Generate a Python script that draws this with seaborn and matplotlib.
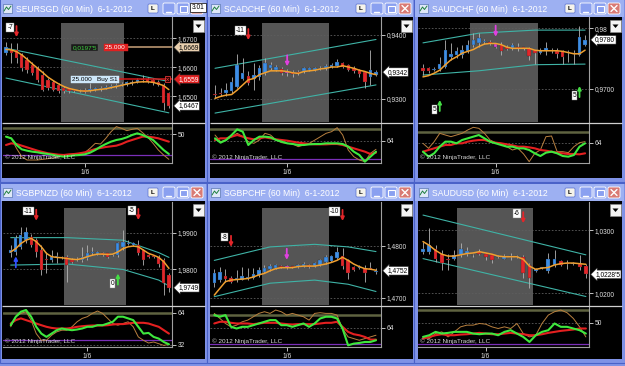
import numpy as np
import matplotlib
matplotlib.use("Agg")
import matplotlib.pyplot as plt
import seaborn as sns
from matplotlib.patches import Rectangle, Polygon, FancyBboxPatch

# ---------------- data ----------------
# SEURSGD
eursgd_open = [1.6649, 1.6660, 1.6660, 1.6643, 1.6626, 1.6609, 1.6597, 1.6574, 1.6557, 1.6551, 1.6540, 1.6529, 1.6525, 1.6523, 1.6521, 1.6523,
               1.6517, 1.6522, 1.6525, 1.6528, 1.6532, 1.6535, 1.6538, 1.6541, 1.6545, 1.6550, 1.6560, 1.6560, 1.6557, 1.6551, 1.6540, 1.6511]
eursgd_high = [1.6686, 1.6683, 1.6683, 1.6649, 1.6637, 1.6620, 1.6603, 1.6586, 1.6563, 1.6557, 1.6546, 1.6534, 1.6529, 1.6526, 1.6526, 1.6529,
               1.6546, 1.6532, 1.6535, 1.6540, 1.6543, 1.6546, 1.6550, 1.6553, 1.6557, 1.6563, 1.6574, 1.6568, 1.6563, 1.6557, 1.6546, 1.6515]
eursgd_low = [1.6643, 1.6614, 1.6614, 1.6586, 1.6580, 1.6574, 1.6551, 1.6517, 1.6521, 1.6517, 1.6511, 1.6511, 1.6511, 1.6514, 1.6514, 1.6511,
              1.6514, 1.6518, 1.6520, 1.6524, 1.6528, 1.6530, 1.6534, 1.6537, 1.6540, 1.6546, 1.6548, 1.6546, 1.6540, 1.6534, 1.6454, 1.6460]
eursgd_close = [1.6671, 1.6649, 1.6631, 1.6597, 1.6591, 1.6580, 1.6557, 1.6523, 1.6529, 1.6523, 1.6517, 1.6517, 1.6517, 1.6520, 1.6518, 1.6514,
                1.6525, 1.6527, 1.6530, 1.6533, 1.6537, 1.6540, 1.6543, 1.6548, 1.6551, 1.6557, 1.6557, 1.6551, 1.6546, 1.6540, 1.6477, 1.6467]
eursgd_ma = [1.6662, 1.6660, 1.6654, 1.6643, 1.6628, 1.6612, 1.6597, 1.6582, 1.6566, 1.6554, 1.6543, 1.6534, 1.6527, 1.6523, 1.6519, 1.6518,
             1.6519, 1.6522, 1.6524, 1.6526, 1.6530, 1.6534, 1.6538, 1.6542, 1.6546, 1.6549, 1.6550, 1.6550, 1.6548, 1.6543, 1.6537, 1.6523]
eursgd_chan_x = [0, 31]
eursgd_chan_up = [1.6666, 1.6551]
eursgd_chan_lo = [1.6563, 1.6443]
eursgd_fast = [46.5, 44, 34, 27.5, 25.5, 24, 23, 21.5, 20.5, 19, 17.5, 16.5, 17.5, 18.5, 19, 20, 22.5, 26.5, 31.5, 35.5, 39, 41.5, 43, 45.5,
               49, 51.5, 49, 45.5, 41.5, 34, 26.5, 20.5]
eursgd_slow = [34, 36.5, 35.5, 33, 30.5, 28, 25.5, 23.5, 21.5, 20.5, 19.5, 19, 20, 20.5, 21.5, 23, 25.5, 28, 29.5, 31, 32, 33, 35.5, 39,
               41.5, 44, 46.5, 46.5, 45.5, 44, 41.5, 39]
eursgd_raw = [46.5, 44, 29, 16.5, 11.5, 11.5, 11.5, 12.5, 13.5, 14.5, 16.5, 17.5, 18.5, 20.5, 21.5, 22.5, 29, 36.5, 35.5, 44, 54, 61.5, 59,
              55.5, 57.5, 59, 52.5, 45.5, 36.5, 26.5, 19, 12.5]
eursgd_levels = [1.67, 1.66, 1.65]
eursgd_level_labels = ["1,6700", "1,6600", "1,6500"]
eursgd_last = "1,6467"
eursgd_target, eursgd_entry = 1.6669, 1.6559
eursgd_sig_bar, eursgd_sig_price, eursgd_sig_text, eursgd_sig_kind = [2], [1.6704], ["-7"], ["sell"]

# SCADCHF
cadchf_open = [.9308, .9309, .9309, .9312, .9319, .9332, .9336, .9331, .9335, .9340, .9348, .9345, .9347, .9344, .9342, .9342, .9343, .9345,
               .9346, .9347, .9348, .9350, .9352, .9356, .9353, .9348, .9345, .9342, .9335, .9338]
cadchf_high = [.9322, .9317, .9325, .9335, .9371, .9364, .9343, .9356, .9353, .9364, .9358, .9353, .9350, .9347, .9345, .9345, .9350, .9350,
               .9350, .9352, .9355, .9356, .9362, .9358, .9355, .9351, .9347, .9344, .9377, .9346]
cadchf_low = [.9301, .9304, .9304, .9309, .9317, .9330, .9322, .9314, .9330, .9338, .9346, .9343, .9337, .9336, .9335, .9338, .9341, .9343,
              .9344, .9345, .9346, .9348, .9350, .9348, .9344, .9341, .9335, .9317, .9322, .9336]
cadchf_close = [.9307, .9308, .9314, .9327, .9353, .9340, .9325, .9338, .9348, .9356, .9353, .9350, .9340, .9340, .9339, .9341, .9348, .9348,
                .9348, .9348, .9352, .9353, .9358, .9350, .9346, .9344, .9339, .9327, .9345, .9342]
cadchf_ma = [.9301, .9304, .9306, .9307, .9314, .9322, .9330, .9332, .9338, .9341, .9344, .9344, .9344, .9343, .9341, .9340, .9343, .9344,
             .9345, .9347, .9348, .9350, .9350, .9352, .9350, .9348, .9345, .9343, .9340, .9338]
cadchf_chan_x = [0, 29]
cadchf_chan_up = [.9348, .9393]
cadchf_chan_lo = [.9278, .9322]
cadchf_fast = [67.5, 61, 65, 72.5, 81, 77.5, 57.5, 65, 70, 70, 69, 65, 62.5, 60, 59, 57.5, 57.5, 58.5, 59, 59, 60, 60, 60, 59, 55, 47.5,
               42.5, 32.5, 40, 47.5]
cadchf_slow = [65, 67.5, 67.5, 70, 72.5, 70, 67.5, 66, 67.5, 69, 67.5, 66, 65, 64, 62.5, 61, 60, 59, 58.5, 58.5, 58.5, 59, 59, 57.5, 55,
               52.5, 50, 47.5, 44, 46]
cadchf_raw = [72.5, 62.5, 65, 70, 75, 70, 62.5, 60, 65, 75, 72.5, 65, 61, 60, 59, 55, 57.5, 60, 65, 70, 75, 77.5, 83.5, 72.5, 50, 40, 35,
              32.5, 45, 51]
cadchf_levels = [0.94, 0.93]
cadchf_level_labels = ["0,9400", "0,9300"]
cadchf_last = "0,9342"
cadchf_sig_bar, cadchf_sig_price, cadchf_sig_text, cadchf_sig_kind = [6, 13], [0.9392, 0.9351], ["-11", ""], ["sell", "mark"]

# SAUDCHF
audchf_open = [.9734, .9734, .9731, .9733, .9737, .9752, .9756, .9756, .9762, .9773, .9776, .9777, .9778, .9774, .9773, .9770, .9767, .9769,
               .9768, .9768, .9764, .9760, .9762, .9765, .9763, .9762, .9760, .9759, .9756, .9773]
audchf_high = [.9742, .9737, .9737, .9753, .9781, .9775, .9770, .9773, .9781, .9792, .9792, .9782, .9780, .9776, .9778, .9773, .9775, .9775,
               .9770, .9770, .9764, .9768, .9778, .9767, .9767, .9764, .9764, .9764, .9803, .9789]
audchf_low = [.9723, .9726, .9729, .9729, .9734, .9748, .9751, .9751, .9759, .9770, .9770, .9774, .9772, .9768, .9756, .9764, .9764, .9762,
              .9765, .9748, .9742, .9758, .9756, .9760, .9751, .9742, .9745, .9742, .9754, .9771]
audchf_close = [.9729, .9729, .9733, .9742, .9765, .9758, .9762, .9765, .9773, .9781, .9784, .9779, .9774, .9770, .9762, .9766, .9773, .9768,
                .9767, .9754, .9759, .9765, .9767, .9762, .9758, .9753, .9759, .9758, .9786, .9781]
audchf_ma = [.9720, .9722, .9726, .9731, .9740, .9748, .9753, .9759, .9762, .9765, .9770, .9774, .9775, .9775, .9773, .9769, .9767, .9767,
             .9767, .9767, .9764, .9763, .9763, .9763, .9763, .9762, .9760, .9758, .9758, .9764]
audchf_chan_x = [0, 10, 20, 29]
audchf_chan_up = [.9776, .9792, .9797, .9797]
audchf_chan_lo = [.9723, .9730, .9740, .9741]
audchf_fast = [50.5, 43, 48, 58, 65.5, 65.5, 63, 68, 70.5, 73, 75.5, 70.5, 65.5, 63, 60.5, 58, 58, 55.5, 55.5, 53, 48, 44, 49, 50.5, 48,
               44, 43, 45.5, 58, 63]
audchf_slow = [50.5, 53, 55.5, 58, 60.5, 60.5, 63, 63, 65.5, 67, 68, 68, 65.5, 64, 63, 61.5, 60, 58, 58, 57, 55.5, 53, 52, 50.5, 49, 48,
               47, 47, 46.5, 48]
audchf_raw = [63, 55.5, 65.5, 78, 75.5, 73, 75.5, 78, 83, 87, 85.5, 78, 68, 64, 63, 58, 53, 55.5, 47, 35.5, 48, 53, 73, 74, 50.5, 50.5,
              49, 58, 64, 65.5]
audchf_levels = [0.98, 0.97]
audchf_level_labels = ["0,98", "0,9700"]
audchf_last = "0,9780"
audchf_sig_bar, audchf_sig_price, audchf_sig_text, audchf_sig_kind = [13, 3, 28], [0.9786, 0.9682, 0.9705], ["", "5", "5"], ["mark", "buy", "buy"]

# SGBPNZD
gbpnzd_open = [1.9843, 1.9847, 1.9861, 1.9879, 1.9888, 1.9879, 1.9852, 1.9825, 1.9825, 1.9833, 1.9832, 1.9832, 1.9825, 1.9826, 1.9825, 1.9829,
               1.9843, 1.9841, 1.9845, 1.9843, 1.9838, 1.9838, 1.9861, 1.9868, 1.9865, 1.9866, 1.9852, 1.9838, 1.9836, 1.9834, 1.9825, 1.9784]
gbpnzd_high = [1.9866, 1.9893, 1.9915, 1.9915, 1.9897, 1.9884, 1.9866, 1.9847, 1.9852, 1.9847, 1.9836, 1.9838, 1.9829, 1.9832, 1.9861, 1.9866,
               1.9861, 1.9850, 1.9848, 1.9845, 1.9842, 1.9875, 1.9908, 1.9879, 1.9875, 1.9879, 1.9856, 1.9840, 1.9838, 1.9838, 1.9829, 1.9788]
gbpnzd_low = [1.9834, 1.9838, 1.9856, 1.9870, 1.9861, 1.9834, 1.9784, 1.9788, 1.9820, 1.9816, 1.9827, 1.9764, 1.9816, 1.9822, 1.9820, 1.9825,
              1.9838, 1.9838, 1.9835, 1.9829, 1.9835, 1.9834, 1.9852, 1.9866, 1.9862, 1.9838, 1.9811, 1.9830, 1.9831, 1.9806, 1.9729, 1.9738]
gbpnzd_close = [1.9852, 1.9884, 1.9893, 1.9902, 1.9866, 1.9847, 1.9797, 1.9824, 1.9834, 1.9835, 1.9831, 1.9811, 1.9820, 1.9827, 1.9834, 1.9843,
                1.9847, 1.9847, 1.9838, 1.9832, 1.9838, 1.9870, 1.9875, 1.9872, 1.9872, 1.9843, 1.9825, 1.9834, 1.9834, 1.9815, 1.9761, 1.9749]
gbpnzd_ma = [1.9847, 1.9856, 1.9870, 1.9879, 1.9884, 1.9875, 1.9861, 1.9843, 1.9834, 1.9832, 1.9831, 1.9829, 1.9827, 1.9826, 1.9829, 1.9834,
             1.9838, 1.9841, 1.9841, 1.9840, 1.9841, 1.9847, 1.9856, 1.9861, 1.9863, 1.9861, 1.9852, 1.9843, 1.9838, 1.9832, 1.9820, 1.9802]
gbpnzd_chan_x = [0, 11, 22, 29, 31]
gbpnzd_chan_up = [1.9886, 1.9886, 1.9879, 1.9845, 1.9832]
gbpnzd_chan_lo = [1.9811, 1.9814, 1.9799, 1.9770, 1.9754]
gbpnzd_fast = [51.5, 60, 65, 66.7, 60, 49.9, 43.1, 39.8, 43.1, 46.5, 48.2, 47.2, 46.5, 47.2, 48.2, 49.9, 49.9, 51.5, 51.5, 53.2, 54.9, 60,
               60, 58.3, 56.6, 49.9, 43.1, 43.8, 39.8, 38.1, 34.7, 32.4]
gbpnzd_slow = [53.2, 56.6, 58.3, 56.6, 54.9, 53.2, 51.5, 49.9, 48.8, 48.2, 48.2, 48.2, 48.8, 49.9, 50.5, 50.9, 51.2, 51.2, 51.2, 51.5, 52.2,
               52.6, 52.6, 53.2, 53.9, 53.9, 53.9, 53.2, 51.5, 49.9, 46.5, 43.1]
gbpnzd_raw = [49.9, 60, 63.3, 65, 56.6, 43.1, 36.4, 36.4, 41.4, 44.8, 46.5, 46.5, 49.9, 54.9, 58.3, 60, 63.3, 65.7, 63.3, 58.3, 53.2, 51.5,
              53.2, 54.9, 49.9, 39.8, 36.4, 33.7, 34.7, 33, 31.3, 32.4]
gbpnzd_levels = [1.99, 1.98]
gbpnzd_level_labels = ["1,9900", "1,9800"]
gbpnzd_last = "1,9749"
gbpnzd_sig_bar, gbpnzd_sig_price = [5, 25, 21, 1], [1.9932, 1.9934, 1.9788, 1.9835]
gbpnzd_sig_text, gbpnzd_sig_kind = ["-11", "-5", "0", ""], ["sell", "sell", "buy", "blue"]

# SGBPCHF
gbpchf_open = [1.4728, 1.4734, 1.4742, 1.4738, 1.4736, 1.4735, 1.4738, 1.4739, 1.4744, 1.4750, 1.4755, 1.4758, 1.4761, 1.4762, 1.4760,
               1.4760, 1.4761, 1.4763, 1.4762, 1.4763, 1.4768, 1.4771, 1.4776, 1.4780, 1.4772, 1.4760, 1.4758, 1.4758, 1.4757, 1.4749]
gbpchf_high = [1.4756, 1.4760, 1.4756, 1.4742, 1.4753, 1.4760, 1.4758, 1.4758, 1.4760, 1.4763, 1.4766, 1.4765, 1.4763, 1.4764, 1.4762,
               1.4765, 1.4768, 1.4765, 1.4769, 1.4774, 1.4782, 1.4783, 1.4798, 1.4795, 1.4775, 1.4762, 1.4763, 1.4763, 1.4769, 1.4758]
gbpchf_low = [1.4721, 1.4731, 1.4731, 1.4728, 1.4731, 1.4734, 1.4734, 1.4737, 1.4740, 1.4747, 1.4752, 1.4756, 1.4757, 1.4755, 1.4757,
              1.4758, 1.4759, 1.4758, 1.4760, 1.4761, 1.4766, 1.4769, 1.4774, 1.4756, 1.4737, 1.4752, 1.4755, 1.4731, 1.4755, 1.4745]
gbpchf_close = [1.4747, 1.4750, 1.4736, 1.4731, 1.4738, 1.4742, 1.4740, 1.4745, 1.4753, 1.4758, 1.4761, 1.4763, 1.4759, 1.4757, 1.4759,
                1.4763, 1.4766, 1.4760, 1.4767, 1.4772, 1.4778, 1.4780, 1.4789, 1.4761, 1.4747, 1.4753, 1.4758, 1.4748, 1.4756, 1.4752]
gbpchf_ma = [1.4705, 1.4718, 1.4731, 1.4734, 1.4735, 1.4736, 1.4737, 1.4740, 1.4744, 1.4747, 1.4752, 1.4756, 1.4758, 1.4758, 1.4758,
             1.4760, 1.4761, 1.4761, 1.4761, 1.4763, 1.4765, 1.4768, 1.4772, 1.4778, 1.4772, 1.4765, 1.4760, 1.4756, 1.4755, 1.4753]
gbpchf_chan_x = [0, 10, 18, 24, 29]
gbpchf_chan_up = [1.4772, 1.4798, 1.4803, 1.4798, 1.4789]
gbpchf_chan_lo = [1.4702, 1.4728, 1.4734, 1.4726, 1.4712]
gbpchf_fast = [83, 80.5, 83, 65.5, 63, 65.5, 65.5, 68, 70.5, 73, 75.5, 75.5, 68, 68, 65.5, 68, 70.5, 65.5, 70.5, 78, 80.5, 80.5, 78, 63,
               38, 40.5, 41.5, 43, 43, 45.5]
gbpchf_slow = [70.5, 73, 73, 71.5, 70.5, 70.5, 70.5, 69.5, 70.5, 71.5, 71.5, 71.5, 70.5, 69.5, 69, 69.5, 69.5, 69.5, 69.5, 70.5, 71.5,
               71.5, 73, 65.5, 58, 54.5, 53, 50.5, 46.5, 46.5]
gbpchf_raw = [85.5, 78, 70.5, 65.5, 68, 73, 75.5, 80.5, 85.5, 88, 85.5, 90.5, 88, 83, 85.5, 83, 80.5, 75.5, 85.5, 86.5, 85.5, 85.5, 83, 63,
              50.5, 48, 45.5, 48, 50.5, 53]
gbpchf_levels = [1.48, 1.47]
gbpchf_level_labels = ["1,4800", "1,4700"]
gbpchf_last = "1,4752"
gbpchf_sig_bar, gbpchf_sig_price, gbpchf_sig_text, gbpchf_sig_kind = [3, 23, 13], [1.4798, 1.4848, 1.4773], ["-8", "-10", ""], ["sell", "sell", "mark"]

# SAUDUSD
audusd_open = [1.0266, 1.0266, 1.0271, 1.0263, 1.0254, 1.0254, 1.0260, 1.0263, 1.0261, 1.0266, 1.0263, 1.0261, 1.0258, 1.0255, 1.0257,
               1.0258, 1.0258, 1.0245, 1.0236, 1.0240, 1.0236, 1.0245, 1.0251, 1.0248, 1.0247, 1.0246, 1.0243]
audusd_high = [1.0282, 1.0303, 1.0276, 1.0268, 1.0263, 1.0268, 1.0279, 1.0274, 1.0263, 1.0271, 1.0264, 1.0263, 1.0260, 1.0263, 1.0264,
               1.0260, 1.0261, 1.0248, 1.0240, 1.0242, 1.0264, 1.0268, 1.0253, 1.0253, 1.0249, 1.0261, 1.0247]
audusd_low = [1.0263, 1.0262, 1.0250, 1.0237, 1.0237, 1.0253, 1.0258, 1.0259, 1.0258, 1.0261, 1.0253, 1.0248, 1.0256, 1.0254, 1.0253,
              1.0256, 1.0224, 1.0208, 1.0234, 1.0238, 1.0232, 1.0242, 1.0243, 1.0238, 1.0245, 1.0237, 1.0224]
audusd_close = [1.0270, 1.0276, 1.0255, 1.0248, 1.0253, 1.0260, 1.0270, 1.0267, 1.0260, 1.0263, 1.0257, 1.0253, 1.0258, 1.0259, 1.0257,
                1.0258, 1.0232, 1.0225, 1.0238, 1.0240, 1.0254, 1.0255, 1.0245, 1.0246, 1.0247, 1.0241, 1.0230]
audusd_ma = [1.0282, 1.0276, 1.0268, 1.0262, 1.0259, 1.0259, 1.0261, 1.0263, 1.0264, 1.0266, 1.0264, 1.0262, 1.0259, 1.0258, 1.0258,
             1.0258, 1.0254, 1.0243, 1.0238, 1.0240, 1.0241, 1.0245, 1.0247, 1.0248, 1.0248, 1.0247, 1.0246]
audusd_chan_x = [0, 26]
audusd_chan_up = [1.0324, 1.0261]
audusd_chan_lo = [1.0255, 1.0195]
audusd_fast = [29, 31.5, 36.5, 34, 35, 36.5, 36.5, 36.5, 34, 33, 34, 34, 31.5, 36.5, 39, 34, 29, 21.5, 31.5, 36.5, 39, 49, 44, 44, 41.5, 39, 34]
audusd_slow = [26.5, 29, 31.5, 33, 31.5, 31.5, 32.5, 33, 34, 35, 34, 33, 33, 34, 35, 34, 33, 31.5, 31.5, 33, 35, 36.5, 38, 39, 40, 41.5, 41.5]
audusd_raw = [29, 26.5, 34, 36.5, 29, 36.5, 44, 46.5, 46.5, 49, 48, 44, 41.5, 44, 41.5, 49, 34, 29, 31.5, 49, 61.5, 66.5, 69, 65, 56.5, 44, 29]
audusd_levels = [1.03, 1.02]
audusd_level_labels = ["1,0300", "1,0200"]
audusd_last = "1,0228'5"
audusd_sig_bar, audusd_sig_price, audusd_sig_text, audusd_sig_kind = [16], [1.0311], ["-6"], ["sell"]

# ---------------- colours ----------------
FRAME = "#7f92e6"
TITLE = "#9db0f2"
BLUE = "#3d8ee6"
RED = "#e3262a"
WICK = "#b4b4b4"
MAGENTA = "#e040e0"

W, H = 625, 366

sns.set_style("dark")
plt.rcParams["font.family"] = ["Liberation Sans", "DejaVu Sans"]


def rect(x0, y0, x1, y1):
    return [x0 / W, 1 - y1 / H, (x1 - x0) / W, (y1 - y0) / H]


panels = [
    dict(title="SEURSGD (60 Min)  6-1-2012", o=eursgd_open, h=eursgd_high, l=eursgd_low, c=eursgd_close, ma=eursgd_ma,
         cx=eursgd_chan_x, cu=eursgd_chan_up, cl=eursgd_chan_lo, fast=eursgd_fast, slow=eursgd_slow, raw=eursgd_raw,
         lev=eursgd_levels, levlab=eursgd_level_labels, last=eursgd_last,
         sig=(eursgd_sig_bar, eursgd_sig_price, eursgd_sig_text, eursgd_sig_kind), hl=None,
         win=(0, 207), row=0, cont=(2, 205), pr=(3, 172), xlim=(-0.57, 31.6), ylim=(1.64114, 1.67735),
         band=(10.5, 22.5), date=15, oylim=(7, 67), olive=60, purple=19, oticks=[50], olab=["50"]),
    dict(title="SCADCHF (60 Min)  6-1-2012", o=cadchf_open, h=cadchf_high, l=cadchf_low, c=cadchf_close, ma=cadchf_ma,
         cx=cadchf_chan_x, cu=cadchf_chan_up, cl=cadchf_chan_lo, fast=cadchf_fast, slow=cadchf_slow, raw=cadchf_raw,
         lev=cadchf_levels, levlab=cadchf_level_labels, last=cadchf_last,
         sig=(cadchf_sig_bar, cadchf_sig_price, cadchf_sig_text, cadchf_sig_kind), hl=13,
         win=(207, 414), row=0, cont=(210, 413), pr=(210, 381), xlim=(-0.9, 29.9), ylim=(0.926406, 0.942813),
         band=(8.5, 20.5), date=13, oylim=(30.5, 90.5), olive=81.5, purple=36, oticks=[64], olab=["64"]),
    dict(title="SAUDCHF (60 Min)  6-1-2012", o=audchf_open, h=audchf_high, l=audchf_low, c=audchf_close, ma=audchf_ma,
         cx=audchf_chan_x, cu=audchf_chan_up, cl=audchf_chan_lo, fast=audchf_fast, slow=audchf_slow, raw=audchf_raw,
         lev=audchf_levels, levlab=audchf_level_labels, last=audchf_last,
         sig=(audchf_sig_bar, audchf_sig_price, audchf_sig_text, audchf_sig_kind), hl=13,
         win=(414, 625), row=0, cont=(418, 622), pr=(418, 589), xlim=(-0.89, 29.7), ylim=(0.964563, 0.981862),
         band=(8.5, 20.5), date=13, oylim=(33.5, 93.5), olive=79.5, purple=None, oticks=[64], olab=["64"]),
    dict(title="SGBPNZD (60 Min)  6-1-2012", o=gbpnzd_open, h=gbpnzd_high, l=gbpnzd_low, c=gbpnzd_close, ma=gbpnzd_ma,
         cx=gbpnzd_chan_x, cu=gbpnzd_chan_up, cl=gbpnzd_chan_lo, fast=gbpnzd_fast, slow=gbpnzd_slow, raw=gbpnzd_raw,
         lev=gbpnzd_levels, levlab=gbpnzd_level_labels, last=gbpnzd_last,
         sig=(gbpnzd_sig_bar, gbpnzd_sig_price, gbpnzd_sig_text, gbpnzd_sig_kind), hl=None,
         win=(0, 207), row=1, cont=(2, 205), pr=(3, 172), xlim=(-1.51, 31.6), ylim=(1.970191, 1.998338),
         band=(10.5, 22.5), date=15, oylim=(29.7, 70.7), olive=64, purple=36.4, oticks=[64, 32], olab=["64", "32"]),
    dict(title="SGBPCHF (60 Min)  6-1-2012", o=gbpchf_open, h=gbpchf_high, l=gbpchf_low, c=gbpchf_close, ma=gbpchf_ma,
         cx=gbpchf_chan_x, cu=gbpchf_chan_up, cl=gbpchf_chan_lo, fast=gbpchf_fast, slow=gbpchf_slow, raw=gbpchf_raw,
         lev=gbpchf_levels, levlab=gbpchf_level_labels, last=gbpchf_last,
         sig=(gbpchf_sig_bar, gbpchf_sig_price, gbpchf_sig_text, gbpchf_sig_kind), hl=13,
         win=(207, 414), row=1, cont=(210, 413), pr=(210, 381), xlim=(-0.77, 29.9), ylim=(1.468596, 1.488462),
         band=(8.5, 20.5), date=13, oylim=(35.5, 96.5), olive=83, purple=40.5, oticks=[64], olab=["64"]),
    dict(title="SAUDUSD (60 Min)  6-1-2012", o=audusd_open, h=audusd_high, l=audusd_low, c=audusd_close, ma=audusd_ma,
         cx=audusd_chan_x, cu=audusd_chan_up, cl=audusd_chan_lo, fast=audusd_fast, slow=audusd_slow, raw=audusd_raw,
         lev=audusd_levels, levlab=audusd_level_labels, last=audusd_last,
         sig=(audusd_sig_bar, audusd_sig_price, audusd_sig_text, audusd_sig_kind), hl=None,
         win=(414, 625), row=1, cont=(418, 622), pr=(418, 589), xlim=(-0.8, 26.5), ylim=(1.018152, 1.034471),
         band=(5.5, 17.5), date=10, oylim=(14, 75), olive=69, purple=19, oticks=[50], olab=["50"]),
]

# vertical layout per row: title bar, black content, price area, oscillator area
rows = [dict(t=(0, 17), c=(17, 178), p=(17, 122), osc=(123, 163)),
        dict(t=(184, 201), c=(201, 359), p=(202, 305), osc=(306, 347))]

fig = plt.figure(figsize=(6.25, 3.66), dpi=100)
fig.patch.set_facecolor(FRAME)

bg = fig.add_axes([0, 0, 1, 1])
bg.set_xlim(0, W)
bg.set_ylim(H, 0)
bg.axis("off")
bg.set_zorder(0)

fg = fig.add_axes([0, 0, 1, 1], facecolor="none")
fg.set_xlim(0, W)
fg.set_ylim(H, 0)
fg.axis("off")
fg.set_zorder(10)

for p in panels:
    r = rows[p["row"]]
    wx0, wx1 = p["win"]
    cx0, cx1 = p["cont"]
    px0, px1 = p["pr"]
    ty0, ty1 = r["t"]

    # window chrome
    bg.add_patch(Rectangle((wx0, ty0 - 1), wx1 - wx0, r["c"][1] - ty0 + 5, fc=FRAME, ec="#4a62c8", lw=0.8))
    bg.add_patch(Rectangle((wx0 + 1, ty0), wx1 - wx0 - 2, ty1 - ty0, fc=TITLE, ec="none"))
    bg.add_patch(Rectangle((cx0, r["c"][0]), cx1 - cx0, r["c"][1] - r["c"][0], fc="black", ec="none"))

    # ---- price panel ----
    ax = fig.add_axes(rect(px0, r["p"][0], px1, r["p"][1]))
    ax.set_zorder(2)
    ax.set_facecolor("black")
    n = len(p["c"])
    x = np.arange(n)
    o, hi, lo, c = map(np.asarray, (p["o"], p["h"], p["l"], p["c"]))
    ax.axvspan(*p["band"], ymin=0, ymax=0.945, color="#555555", lw=0, zorder=0)
    ax.vlines(x, lo, hi, color=WICK, lw=0.6, zorder=2)
    cols = np.where(c >= o, BLUE, RED).astype(object)
    if p["hl"] is not None:
        cols[p["hl"]] = MAGENTA
    tiny = (p["ylim"][1] - p["ylim"][0]) / 110
    ax.bar(x, np.maximum(np.abs(c - o), tiny), bottom=np.minimum(o, c), width=0.62, color=list(cols),
           edgecolor="#202020", lw=0.2, zorder=3)
    sns.lineplot(x=p["cx"], y=p["cu"], ax=ax, color="#3fb3a6", lw=0.8, zorder=1)
    sns.lineplot(x=p["cx"], y=p["cl"], ax=ax, color="#3fb3a6", lw=0.8, zorder=1)
    sns.lineplot(x=x, y=p["ma"], ax=ax, color="#f0a030", lw=1.1, zorder=4)

    for b, pv, txt, kind in zip(*p["sig"]):
        down = kind in ("sell", "mark")
        col = {"sell": RED, "mark": MAGENTA, "buy": "#44dd44", "blue": "#3050ff"}[kind]
        ax.annotate("", xy=(b, pv), xytext=(0, 8 if down else -8), textcoords="offset points",
                    arrowprops=dict(arrowstyle="-|>", color=col, lw=1.3, mutation_scale=5, shrinkA=0, shrinkB=0),
                    zorder=6)
        if txt:
            ax.annotate(txt, xy=(b, pv), xytext=(-2.5, 7 if down else -7), textcoords="offset points",
                        ha="right", va="center", fontsize=4.7, color="black",
                        bbox=dict(boxstyle="square,pad=0.12", fc="white", ec="#888", lw=0.3), zorder=7)

    ax.set_xlim(*p["xlim"])
    ax.set_ylim(*p["ylim"])
    ax.set_xticks([])
    ax.set_yticks(p["lev"])
    ax.set_yticklabels(p["levlab"])
    ax.yaxis.tick_right()
    ax.tick_params(axis="y", right=True, left=False, labelright=True, labelleft=False, colors="#e0e0e0",
                   labelsize=4.8, length=3, width=0.6, pad=1.2)
    ax.grid(axis="y", color="#5e5e5e", ls=(0, (2, 2)), lw=0.6)
    ax.grid(axis="x", visible=False)
    for s in ax.spines.values():
        s.set_visible(False)
    ax.spines["right"].set_visible(True)
    ax.spines["right"].set_color("#a0a0a0")
    ax.spines["right"].set_linewidth(0.8)
    ax.set_xlabel("")
    ax.set_ylabel("")

    ax.annotate(p["last"], xy=(1, c[-1]), xycoords=("axes fraction", "data"), xytext=(4.5, 0),
                textcoords="offset points", ha="left", va="center", fontsize=4.8, color="black",
                bbox=dict(boxstyle="larrow,pad=0.12", fc="white", ec="#222", lw=0.4), annotation_clip=False, zorder=8)

    if p["title"].startswith("SEURSGD"):
        ax.hlines(eursgd_target, 23.2, p["xlim"][1], color="#c9a27a", lw=1.1, zorder=5)
        ax.hlines(eursgd_entry, 21.3, p["xlim"][1], color="#d01818", lw=1.1, zorder=5)
        ax.text(17.3, eursgd_target, "0,0197'5", ha="right", va="center", fontsize=4.6, color="#40d040",
                bbox=dict(boxstyle="square,pad=0.15", fc="#1a1a1a", ec="#555", lw=0.3), zorder=7)
        ax.text(23.0, eursgd_target, "25.000 ", ha="right", va="center", fontsize=4.6, color="white",
                bbox=dict(boxstyle="square,pad=0.15", fc="#e02020", ec="#e02020", lw=0.3), zorder=7)
        ax.text(21.3, eursgd_entry, "25.000   Buy S1", ha="right", va="center", fontsize=4.6, color="black",
                bbox=dict(boxstyle="square,pad=0.15", fc="#cfe8fa", ec="#cfe8fa", lw=0.3), zorder=7)
        ax.text(30.8, eursgd_entry, "x", ha="center", va="center", fontsize=4.6, color="#ff4040",
                bbox=dict(boxstyle="square,pad=0.12", fc="#300000", ec="#ff4040", lw=0.5), zorder=7)
        ax.annotate("1,6669", xy=(1, eursgd_target), xycoords=("axes fraction", "data"), xytext=(4.5, 0),
                    textcoords="offset points", ha="left", va="center", fontsize=4.8, color="black",
                    bbox=dict(boxstyle="larrow,pad=0.12", fc="#e8cfae", ec="#222", lw=0.4), annotation_clip=False, zorder=8)
        ax.annotate("1,6559", xy=(1, eursgd_entry), xycoords=("axes fraction", "data"), xytext=(4.5, 0),
                    textcoords="offset points", ha="left", va="center", fontsize=4.8, color="white",
                    bbox=dict(boxstyle="larrow,pad=0.12", fc="#e02020", ec="#222", lw=0.4), annotation_clip=False, zorder=8)

    # ---- oscillator panel ----
    oa = fig.add_axes(rect(px0, r["osc"][0], px1, r["osc"][1]))
    oa.set_zorder(2)
    oa.set_facecolor("black")
    oa.axhline(p["olive"], color="#5f6340", lw=1.8, zorder=1)
    if p["purple"] is not None:
        oa.axhline(p["purple"], color="#7a2fb8", lw=0.9, zorder=1)
    sns.lineplot(x=x, y=p["raw"], ax=oa, color="#b9803f", lw=0.7, zorder=3)
    sns.lineplot(x=x, y=p["slow"], ax=oa, color="#e42020", lw=1.5, zorder=4)
    sns.lineplot(x=x, y=p["fast"], ax=oa, color="#3ee83e", lw=1.5, zorder=5)
    oa.set_xlim(*p["xlim"])
    oa.set_ylim(*p["oylim"])
    oa.set_yticks(p["oticks"])
    oa.set_yticklabels(p["olab"])
    oa.yaxis.tick_right()
    oa.set_xticks([p["date"]])
    oa.set_xticklabels(["1/6"])
    oa.tick_params(axis="y", right=True, left=False, labelright=True, labelleft=False, colors="#e0e0e0",
                   labelsize=4.8, length=3, width=0.6, pad=1.2)
    oa.tick_params(axis="x", bottom=True, colors="#e0e0e0", labelsize=4.8, length=3, width=0.6, pad=1.5)
    oa.grid(axis="y", color="#5e5e5e", ls=(0, (2, 2)), lw=0.6)
    oa.grid(axis="x", visible=False)
    for s in oa.spines.values():
        s.set_visible(False)
    for side in ("right", "bottom"):
        oa.spines[side].set_visible(True)
        oa.spines[side].set_color("#a0a0a0")
        oa.spines[side].set_linewidth(0.8)
    oa.text(0.01, 0.09, "\u00a9 2012 NinjaTrader, LLC", transform=oa.transAxes, fontsize=4.6, color="#d8d8d8", zorder=6)
    oa.set_xlabel("")
    oa.set_ylabel("")

    # separator between price and oscillator panes
    fg.hlines((r["p"][1] + r["osc"][0]) / 2, cx0, cx1, color="#cfcfcf", lw=0.9)

    # title bar contents
    fg.add_patch(Rectangle((cx0 + 1, ty0 + 4), 9, 9, fc="#dfe8f8", ec="#4060a0", lw=0.4))
    fg.plot([cx0 + 2, cx0 + 4.5, cx0 + 6.5, cx0 + 9], [ty0 + 11, ty0 + 7, ty0 + 9.5, ty0 + 6], color="#208040", lw=0.7)
    fg.text(cx0 + 14, (ty0 + ty1) / 2 + 0.5, p["title"], color="white", fontsize=6.2, va="center", ha="left")
    bx = cx1
    fg.add_patch(FancyBboxPatch((bx - 57, ty0 + 4), 10, 9, boxstyle="round,pad=0,rounding_size=1.2",
                                fc="#f5f3ea", ec="#5870d0", lw=0.5))
    fg.text(bx - 52, ty0 + 8.8, "L", fontsize=4.6, ha="center", va="center", color="black", fontweight="bold")
    for dx, col in [(-42, "#8aa0f0"), (-28, "#8aa0f0"), (-14, "#d97a74")]:
        fg.add_patch(FancyBboxPatch((bx + dx, ty0 + 3), 12, 11, boxstyle="round,pad=0,rounding_size=1.5",
                                    fc=col, ec="white", lw=0.6))
    fg.plot([bx - 39, bx - 34], [ty0 + 11.5, ty0 + 11.5], color="white", lw=1.0)
    fg.add_patch(Rectangle((bx - 25.5, ty0 + 5.5), 7, 6, fc="none", ec="white", lw=0.8))
    fg.plot([bx - 11, bx - 5], [ty0 + 5.5, ty0 + 11.5], color="white", lw=1.0)
    fg.plot([bx - 11, bx - 5], [ty0 + 11.5, ty0 + 5.5], color="white", lw=1.0)

    # dropdown button in the chart corner
    cy0 = r["c"][0]
    fg.add_patch(Rectangle((cx1 - 12, cy0 + 3), 11, 12, fc="#f4f4f4", ec="#909090", lw=0.4))
    fg.add_patch(Polygon([[cx1 - 9.5, cy0 + 7.5], [cx1 - 3.5, cy0 + 7.5], [cx1 - 6.5, cy0 + 11]], fc="black", ec="none"))

# little version box over the first window's buttons
fg.text(198, 7.5, "3.01", fontsize=4.8, ha="center", va="center", color="black",
        bbox=dict(boxstyle="square,pad=0.2", fc="white", ec="black", lw=0.5))

fig.savefig("out.png", dpi=100, facecolor=FRAME)
